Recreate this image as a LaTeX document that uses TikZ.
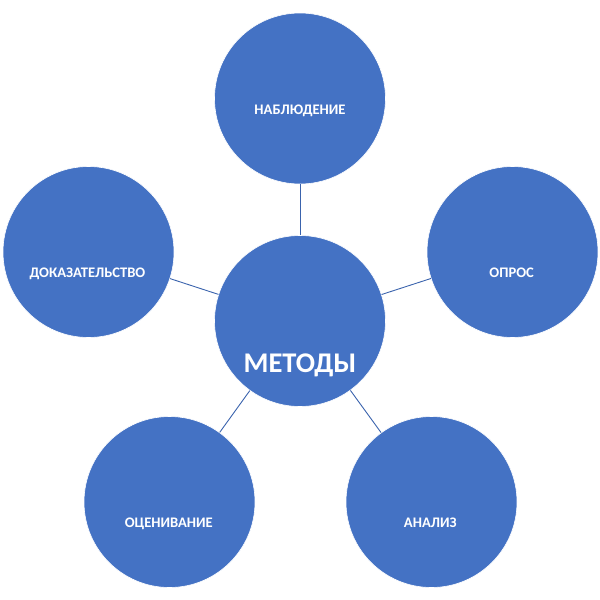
\documentclass[tikz,border=0pt]{standalone}
\usepackage{fontspec}
\setmainfont{Carlito}
\definecolor{fillblue}{HTML}{4472C4}
\definecolor{lineblue}{HTML}{3A63AD}
\begin{document}
\begin{tikzpicture}[x=1pt,y=-1pt,
  blob/.style={circle,fill=fillblue,draw=white,line width=0.6pt,minimum size=171pt,inner sep=0pt},
  lbl/.style={anchor=base,text=white,font=\bfseries\fontsize{14.6}{17}\selectfont,inner sep=0pt},
  biglbl/.style={anchor=base,text=white,font=\bfseries\fontsize{28.5}{34}\selectfont,inner sep=0pt},
  link/.style={draw=lineblue,line width=0.9pt}]
\useasboundingbox (0,0) rectangle (600,600);
\node[blob] (c) at (300,321) {};
\node[blob] (t) at (300,98.5) {};
\node[blob] (r) at (512.5,252) {};
\node[blob] (l) at (88.5,252) {};
\node[blob] (bl) at (169.5,502) {};
\node[blob] (br) at (431.5,502) {};
\draw[link] (c) -- (t);
\draw[link] (c) -- (r);
\draw[link] (c) -- (l);
\draw[link] (c) -- (bl);
\draw[link] (c) -- (br);
\node[biglbl] (tc) at (300,372) {МЕТОДЫ};
\node[lbl] (tt) at (300,114) {НАБЛЮДЕНИЕ};
\node[lbl] (tr) at (511.7,277) {ОПРОС};
\node[lbl] (tl) at (87.5,277) {ДОКАЗАТЕЛЬСТВО};
\node[lbl] (tbl) at (168.8,527.5) {ОЦЕНИВАНИЕ};
\node[lbl] (tbr) at (430.3,527.5) {АНАЛИЗ};
\end{tikzpicture}
\end{document}
